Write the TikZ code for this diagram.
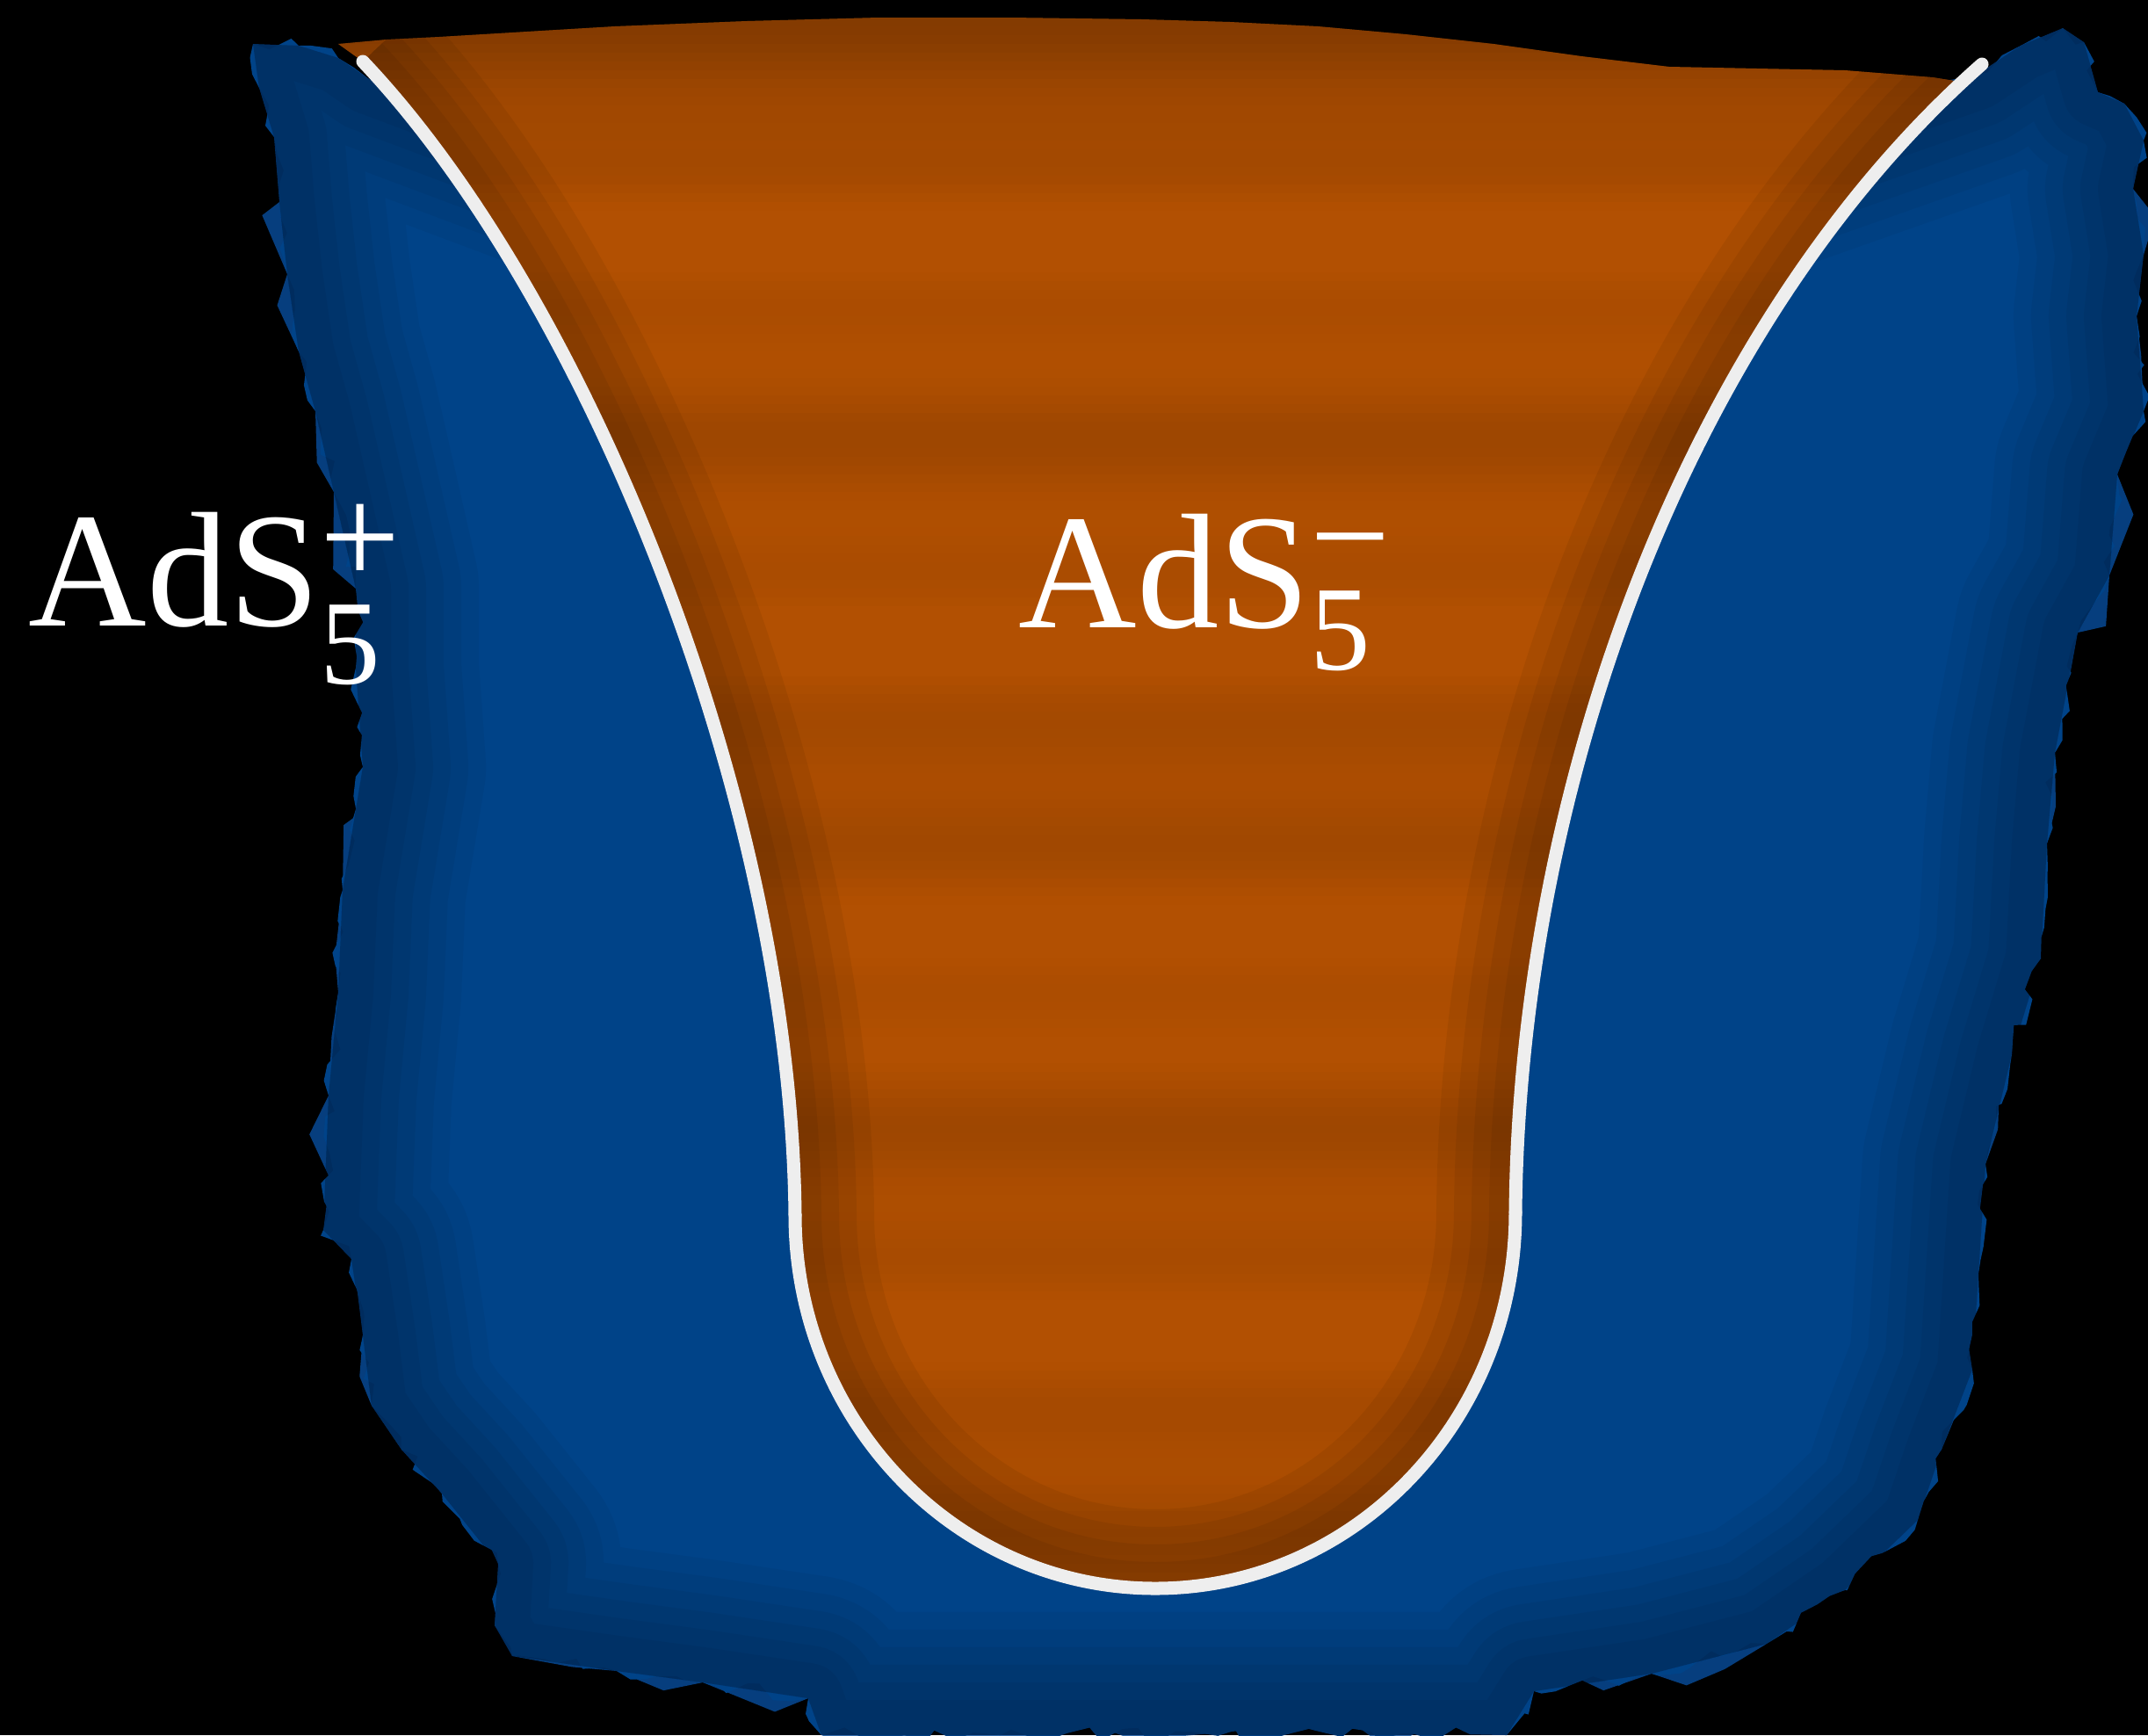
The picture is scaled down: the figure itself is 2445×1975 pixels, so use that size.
\documentclass[tikz,border=0pt]{standalone}
\usepackage{fontspec}
\setmainfont{Liberation Serif}
\usepackage{tikz}
\usetikzlibrary{decorations.pathmorphing}
\definecolor{inkblue}{RGB}{0,67,136}
\definecolor{fringe}{RGB}{8,78,158}
\definecolor{rust}{RGB}{178,80,2}
\definecolor{chalk}{RGB}{238,238,238}

\newcommand{\subsize}{\fontsize{39}{39}\selectfont}
\newcommand{\signsize}{\fontsize{46}{46}\selectfont}
% #1 sign, #2 its raise, #3 drop of the 5
\newcommand{\adsname}[3]{AdS\rlap{\raisebox{#2}{\signsize #1}}\raisebox{#3}{\subsize 5}}

% outline of the painted blue patch
\newcommand{\blobline}{(288,50) -- (340,52) -- (385,66) -- (420,90) -- (1300,420) -- (2250,85) -- (2300,52) -- (2348,32) -- (2372,48) -- (2388,105) -- (2418,118) -- (2440,160) -- (2428,215) -- (2440,290) -- (2432,360) -- (2440,468) -- (2410,540) -- (2401,655) -- (2365,720) -- (2339,857) -- (2330,960) -- (2323,1091) -- (2290,1200) -- (2260,1325) -- (2252,1450) -- (2245,1559) -- (2210,1650) -- (2183,1730) -- (2100,1810) -- (2011,1871) -- (1880,1905) -- (1746,1925) -- (1715,1975) -- (935,1975) -- (920,1933) -- (800,1915) -- (702,1902) -- (583,1885) -- (563,1850) -- (567,1780) -- (503,1700) -- (457,1650) -- (423,1600) -- (413,1520) -- (400,1433) -- (368,1400) -- (374,1247) -- (385,1130) -- (390,1013) -- (413,873) -- (405,760) -- (405,670) -- (380,560) -- (359,468) -- (340,400) -- (327,312) -- (318,230) -- (312,156) -- (295,100) -- cycle}

% the white boundary
\newcommand{\rimline}{(wl) .. controls (660,330) and (900,900) .. (kl) .. controls (905,1618) and (1089,1808) .. (ub) .. controls (1541,1808) and (1725,1618) .. (kr) .. controls (1730,880) and (1930,360) .. (wr)}

% outline of the orange region
\newcommand{\rustline}{(385,50) -- (440,45) -- (500,42) -- (600,36) -- (700,30) -- (850,24) -- (1000,20) -- (1150,20) -- (1300,22) -- (1400,25) -- (1500,30) -- (1600,39) -- (1700,50) -- (1800,64) -- (1900,76) -- (2000,78) -- (2100,80) -- (2200,88) -- (2225,92) -- (wr) .. controls (1930,360) and (1730,880) .. (kr) .. controls (1725,1618) and (1541,1808) .. (ub) .. controls (1089,1808) and (905,1618) .. (kl) .. controls (900,900) and (660,330) .. (wl) -- cycle}

\begin{document}
\begin{tikzpicture}[
    x=0.01cm, y=-0.01cm,
    paint/.style={decorate, decoration={random steps, #1}},
    wall/.style={draw=chalk, line width=0.15cm, line cap=round},
    adstext/.style={text=white, font=\fontsize{53}{60}\selectfont, inner sep=0pt, anchor=base west}
]
\pgfmathsetseed{7}
\useasboundingbox (0,0) rectangle (2445,1975);
\fill[black] (0,0) rectangle (2445,1975);

% key points of the boundary
\coordinate (wl) at (413,70);
\coordinate (kl) at (905,1383);
\coordinate (ub) at (1315,1808);
\coordinate (kr) at (1725,1380);
\coordinate (wr) at (2256,73);

% Blue patch
\path[fill=fringe, fill opacity=0.8, paint={segment length=14pt, amplitude=7pt}] \blobline;
\path[fill=inkblue, paint={segment length=5pt, amplitude=2.5pt}] \blobline;
\begin{scope}
  \clip \blobline;
  \foreach \w in {2.8,2.4,...,0.4}
    \draw[black, opacity=0.045, line width=\w cm, line join=round] \blobline;
\end{scope}

% Orange region
\fill[rust] \rustline;
\begin{scope}
  \clip \rustline;
  \foreach \y in {20,30,...,1820}{
    \pgfmathsetmacro{\op}{max(0, 0.035 + 0.04*sin(\y*0.9) + 0.035*sin(\y*2.3+30) + max(0, 0.2*(1-\y/160)))}
    \fill[black, opacity=\op] (300,\y) rectangle (2300,\y+10);
  }
  \foreach \w in {1.8,1.4,1.0,0.6}
    \draw[black, opacity=0.06, line width=\w cm] \rimline;
\end{scope}

% White boundary
\draw[wall] (wl) .. controls (660,330) and (900,900) .. (kl);
\draw[wall] (kl) .. controls (905,1618) and (1089,1808) .. (ub) .. controls (1541,1808) and (1725,1618) .. (kr);
\draw[wall] (kr) .. controls (1730,880) and (1930,360) .. (wr);

% Labels
\node[adstext] (adsplus) at (32,712) {\adsname{+}{0.25em}{-0.355em}};
\node[adstext] (adsminus) at (1159,714) {\adsname{−}{0.265em}{-0.26em}};

\end{tikzpicture}
\end{document}
